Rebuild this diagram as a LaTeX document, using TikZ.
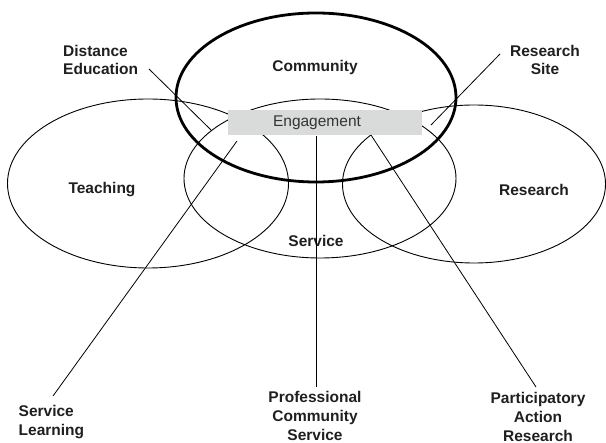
\documentclass[tikz,border=0pt]{standalone}
\usepackage{fontspec}
\setmainfont{Liberation Sans}
\begin{document}
\begin{tikzpicture}[x=1pt,y=-1pt,
  ring/.style={draw=black,line width=0.9pt},
  bigring/.style={draw=black,line width=2.8pt},
  lbl/.style={inner sep=0pt,font=\fontsize{15.5}{18.6}\selectfont\bfseries,text=black!88},
  leader/.style={draw=black,line width=0.8pt}]
\definecolor{boxgray}{RGB}{217,219,219}
\useasboundingbox (0,0) rectangle (606,443);

% the four overlapping circles of activity
\draw[ring] (148,183.5) ellipse [x radius=140.5, y radius=84.5];
\draw[ring] (320,178.5) ellipse [x radius=136, y radius=79.5];
\draw[ring] (474,184) ellipse [x radius=131.5, y radius=79];
\draw[bigring] (316,97.5) ellipse [x radius=140, y radius=84.5];

% engagement band across the middle
\node[fill=boxgray,minimum width=194pt,minimum height=25pt,inner sep=0pt] (eng) at (325,122.5) {};
\node[inner sep=0pt,font=\fontsize{15.5}{18.6}\selectfont,text=black!80] (engtxt) at (317,123) {Engagement};

% circle labels
\node[lbl] (community) at (315,67) {Community};
\node[lbl] (teaching) at (102,190) {Teaching};
\node[lbl] (research) at (534,190) {Research};
\node[lbl] (service) at (316,241) {Service};

% outer labels
\node[lbl,align=left,anchor=west] (distedu) at (63,60) {Distance\\Education};
\node[lbl,align=center] (site) at (545,60) {Research\\Site};
\node[lbl,align=left,anchor=west] (servlearn) at (18.5,422) {Service\\Learning};
\node[lbl,align=center] (pcs) at (315,416) {Professional\\Community\\Service};
\node[lbl,align=center] (par) at (538,417) {Participatory\\Action\\Research};

% leader line end points
\coordinate (deA) at (149,69);   \coordinate (deB) at (211,130);
\coordinate (rsA) at (500,54);   \coordinate (rsB) at (431,125);
\coordinate (slA) at (53,396);   \coordinate (slB) at (237,141);
\coordinate (pcA) at (316,387);  \coordinate (pcB) at (316,136);
\coordinate (paA) at (536,387);  \coordinate (paB) at (371,135);

\draw[leader] (deA) -- (deB);
\draw[leader] (rsA) -- (rsB);
\draw[leader] (slA) -- (slB);
\draw[leader] (pcA) -- (pcB);
\draw[leader] (paA) -- (paB);
\end{tikzpicture}
\end{document}
